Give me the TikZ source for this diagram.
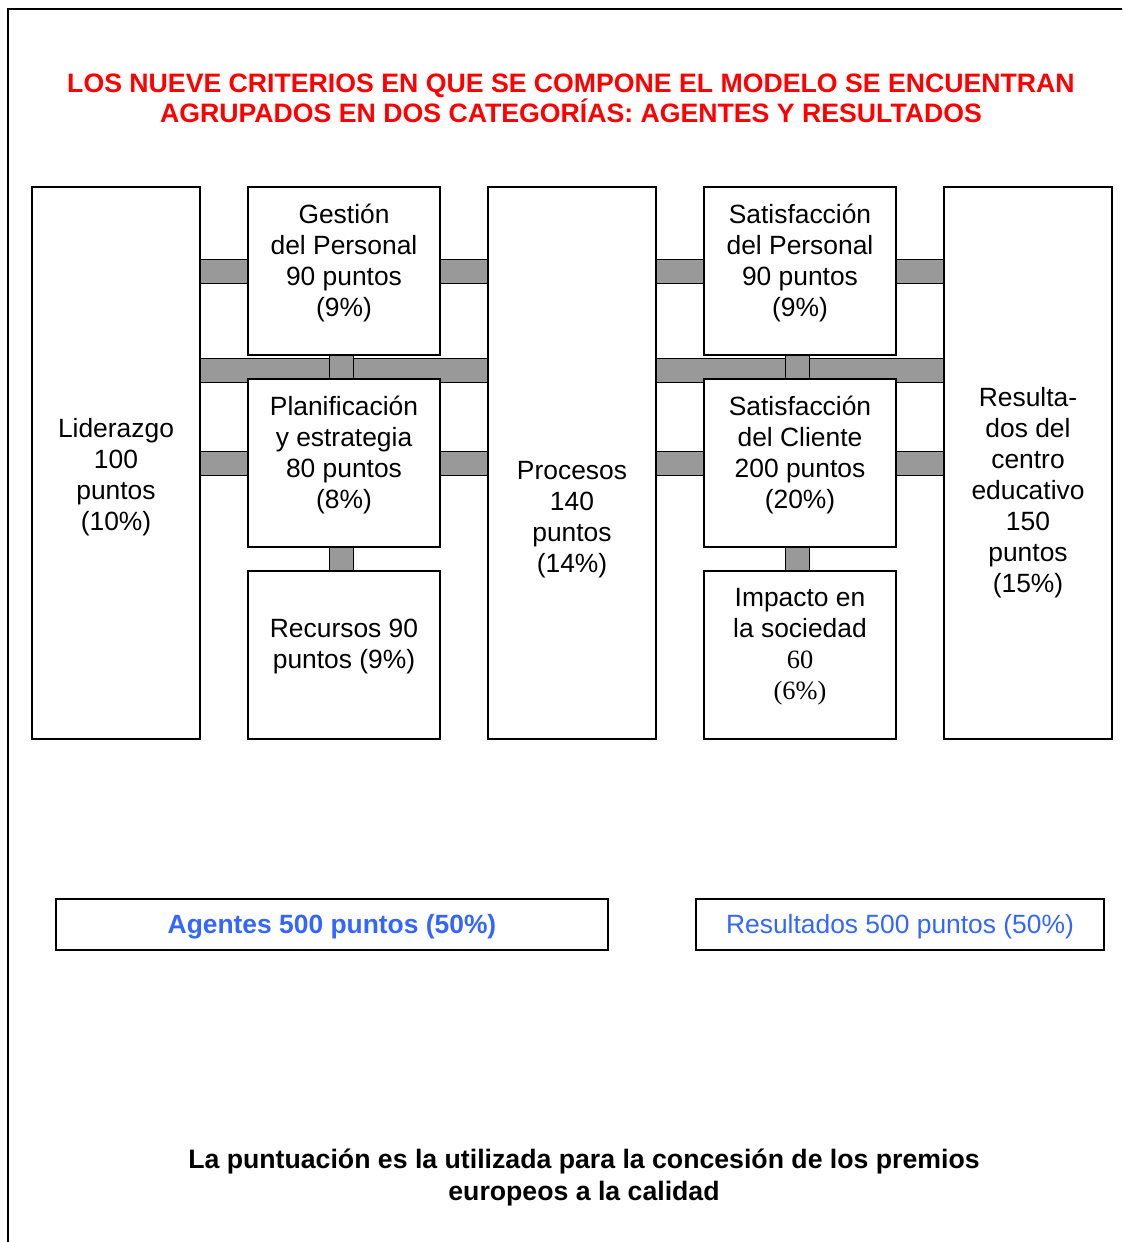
\documentclass[tikz,border=0pt]{standalone}
\usepackage{fontspec}
\setmainfont{Liberation Sans}
\newfontfamily\timesfont{Liberation Serif}
\usetikzlibrary{calc,backgrounds}
\definecolor{barGray}{RGB}{153,153,153}
\definecolor{titleRed}{RGB}{255,0,0}
\definecolor{sumBlue}{RGB}{51,102,255}

\begin{document}
\begin{tikzpicture}[x=0.75pt, y=-0.75pt, line width=1.1pt,
  crit/.style={draw, fill=white, inner sep=0pt},
  tall/.style={crit, minimum width=126pt, minimum height=414pt},
  small/.style={crit, minimum width=144pt, minimum height=126pt},
  bar/.style={draw, fill=barGray},
  txt/.style={align=center, inner sep=0pt, font=\fontsize{19.8}{23.25}\selectfont},
  sum/.style={draw, minimum height=38.25pt, text=sumBlue, text depth=1pt, font=\fontsize{19.8}{23.25}\selectfont}]
\useasboundingbox (0,0) rectangle (1122,1242);
\clip (0,0) rectangle (1122,1242);
\draw (8,9) rectangle (1140,1260);

\node[align=center, text=titleRed, font=\bfseries\fontsize{20}{22.5}\selectfont] (title) at (571,98)
  {LOS NUEVE CRITERIOS EN QUE SE COMPONE EL MODELO SE ENCUENTRAN\\AGRUPADOS EN DOS CATEGORÍAS: AGENTES Y RESULTADOS};

\node[tall]  (lid)  at (116,463) {};
\node[small] (ges)  at (344,271) {};
\node[small] (pla)  at (344,463) {};
\node[small] (rec)  at (344,655) {};
\node[tall]  (pro)  at (572,463) {};
\node[small] (sper) at (800,271) {};
\node[small] (scli) at (800,463) {};
\node[small] (imp)  at (800,655) {};
\node[tall]  (res)  at (1028,463) {};
\coordinate (gapL) at (344,370);
\coordinate (gapR) at (800,370);

\begin{scope}[on background layer]
\foreach \a/\b/\r in {lid/ges/ges, ges/pro/ges, lid/pla/pla, pla/pro/pla, pro/sper/sper, sper/res/sper, pro/scli/scli, scli/res/scli}
  \draw[bar] ($(\a.east |- \r.center)+(0,-12)$) rectangle ($(\b.west |- \r.center)+(0,12)$);
\draw[bar] ($(lid.east |- gapL)+(0,-12)$) rectangle ($(pro.west |- gapL)+(0,12)$);
\draw[bar] ($(pro.east |- gapR)+(0,-12)$) rectangle ($(res.west |- gapR)+(0,12)$);
\foreach \a/\b in {ges/pla, pla/rec, sper/scli, scli/imp}
  \draw[bar] ($(\a.south)+(-15,0)$) rectangle ($(\b.north)+(9,0)$);
\end{scope}

\node[txt] (lidT)  at ($(lid)+(0,14)$)   {Liderazgo\\100\\puntos\\(10\%)};
\node[txt] (gesT)  at ($(ges)+(0,-8)$)   {Gestión\\del Personal\\90 puntos\\(9\%)};
\node[txt] (plaT)  at ($(pla)+(0,-8)$)   {Planificación\\y estrategia\\80 puntos\\(8\%)};
\node[txt] (recT)  at ($(rec)+(0,-8)$)   {Recursos 90\\puntos (9\%)};
\node[txt] (proT)  at ($(pro)+(0,57)$)   {Procesos\\140\\puntos\\(14\%)};
\node[txt] (sperT) at ($(sper)+(0,-8)$)  {Satisfacción\\del Personal\\90 puntos\\(9\%)};
\node[txt] (scliT) at ($(scli)+(0,-8)$)  {Satisfacción\\del Cliente\\200 puntos\\(20\%)};
\node[txt] (impT)  at ($(imp)+(0,-8)$)   {Impacto en\\la sociedad\\{\timesfont 60}\\{\timesfont (6\%)}};
\node[txt] (resT)  at ($(res)+(0,30)$)   {Resulta-\\dos del\\centro\\educativo\\150\\puntos\\(15\%)};

\node[sum, minimum width=414pt, font=\bfseries\fontsize{19.8}{23.25}\selectfont] (agt) at (332,924.5) {Agentes 500 puntos (50\%)};
\node[sum, minimum width=306pt] (resu) at (900,924.5) {Resultados 500 puntos (50\%)};

\node[align=center, font=\bfseries\fontsize{20}{24}\selectfont] (note) at (584,1177)
  {La puntuación es la utilizada para la concesión de los premios\\europeos a la calidad};
\end{tikzpicture}
\end{document}
